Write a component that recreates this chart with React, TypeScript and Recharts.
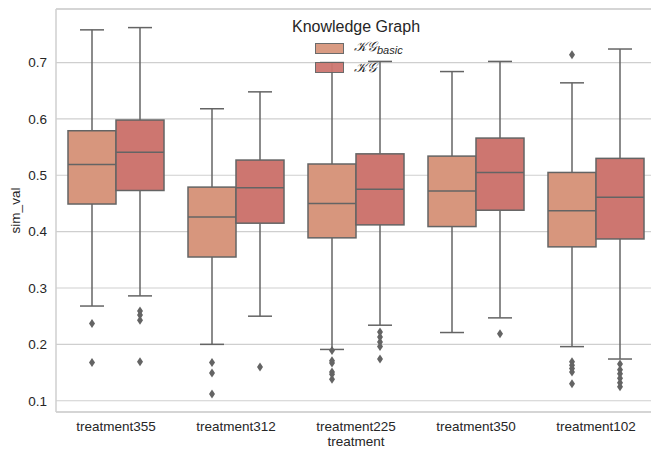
import React from "react"
import { ComposedChart, Bar, XAxis, YAxis, CartesianGrid, ReferenceLine } from "recharts"

// categories
const treatments = ["treatment355", "treatment312", "treatment225", "treatment350", "treatment102"]
const yTicks = [0.1, 0.2, 0.3, 0.4, 0.5, 0.6, 0.7]

// KG_basic box stats, one entry per treatment
const basicLow = [0.268, 0.2, 0.191, 0.221, 0.196]
const basicQ1 = [0.449, 0.355, 0.389, 0.409, 0.373]
const basicMedian = [0.519, 0.426, 0.45, 0.472, 0.437]
const basicQ3 = [0.579, 0.479, 0.52, 0.534, 0.505]
const basicHigh = [0.758, 0.618, 0.7, 0.684, 0.664]
const basicOutliers = [
  [0.237, 0.168],
  [0.168, 0.149, 0.112],
  [0.189, 0.171, 0.167, 0.151, 0.147, 0.138],
  [],
  [0.714, 0.169, 0.163, 0.157, 0.151, 0.13],
]

// KG box stats
const kgLow = [0.286, 0.25, 0.234, 0.247, 0.174]
const kgQ1 = [0.473, 0.415, 0.412, 0.438, 0.387]
const kgMedian = [0.541, 0.478, 0.475, 0.505, 0.461]
const kgQ3 = [0.598, 0.527, 0.538, 0.566, 0.53]
const kgHigh = [0.762, 0.648, 0.702, 0.702, 0.724]
const kgOutliers = [
  [0.259, 0.252, 0.243, 0.169],
  [0.16],
  [0.222, 0.213, 0.204, 0.196, 0.174],
  [0.219],
  [0.165, 0.155, 0.148, 0.14, 0.132, 0.125],
]

const BASIC_COLOR = "#d7967d"
const KG_COLOR = "#cd7670"
const LINE = "#646464"
const GRID = "#cfcfcf"
const TEXT = "#262626"
const FONT = "'Liberation Sans', Arial, sans-serif"

type Stats = { lo: number; q1: number; med: number; q3: number; hi: number; out: number[] }

const rows = treatments.map((name, i) => {
  const basic: Stats = { lo: basicLow[i], q1: basicQ1[i], med: basicMedian[i], q3: basicQ3[i], hi: basicHigh[i], out: basicOutliers[i] }
  const kg: Stats = { lo: kgLow[i], q1: kgQ1[i], med: kgMedian[i], q3: kgQ3[i], hi: kgHigh[i], out: kgOutliers[i] }
  return {
    name,
    basic,
    kg,
    basicRange: [Math.min(basic.lo, ...basic.out), Math.max(basic.hi, ...basic.out)],
    kgRange: [Math.min(kg.lo, ...kg.out), Math.max(kg.hi, ...kg.out)],
  }
})

function makeBox(key: "basic" | "kg", fill: string) {
  return (props: any) => {
    const { x, y, width, height, payload } = props
    const s: Stats = payload[key]
    const range = payload[key + "Range"]
    const top = Math.min(y, y + height)
    const bot = Math.max(y, y + height)
    // the bar spans range[0]..range[1]; place the stats inside it
    const py = (v: number) => bot - ((v - range[0]) / (range[1] - range[0])) * (bot - top)
    const cx = x + width / 2
    const capHalf = width / 4
    return (
      <g>
        <line x1={cx} x2={cx} y1={py(s.hi)} y2={py(s.q3)} stroke={LINE} strokeWidth={1.5} />
        <line x1={cx} x2={cx} y1={py(s.q1)} y2={py(s.lo)} stroke={LINE} strokeWidth={1.5} />
        <line x1={cx - capHalf} x2={cx + capHalf} y1={py(s.hi)} y2={py(s.hi)} stroke={LINE} strokeWidth={1.5} />
        <line x1={cx - capHalf} x2={cx + capHalf} y1={py(s.lo)} y2={py(s.lo)} stroke={LINE} strokeWidth={1.5} />
        <rect x={x} y={py(s.q3)} width={width} height={py(s.q1) - py(s.q3)} fill={fill} stroke={LINE} strokeWidth={1.5} />
        <line x1={x} x2={x + width} y1={py(s.med)} y2={py(s.med)} stroke={LINE} strokeWidth={1.5} />
        {s.out.map((v, j) => {
          const oy = py(v)
          return <path key={j} d={`M${cx},${oy - 4.5}L${cx + 3},${oy}L${cx},${oy + 4.5}L${cx - 3},${oy}Z`} fill={LINE} />
        })}
      </g>
    )
  }
}

const legendItems = [
  { color: BASIC_COLOR, sub: "basic" },
  { color: KG_COLOR, sub: "" },
]

export default function App() {
  return (
    <div style={{ position: "absolute", left: 0, top: 0, width: 651, height: 450, overflow: "hidden", background: "#fff" }}>
      <ComposedChart width={660} height={450} data={rows} margin={{ top: 9, right: 4, bottom: 0, left: 0 }} barCategoryGap="10%" barGap={0}>
        <CartesianGrid vertical={false} stroke={GRID} strokeWidth={1.2} />
        <ReferenceLine y={0.795} stroke={GRID} strokeWidth={1.5} />
        <XAxis
          dataKey="name"
          height={38}
          tickLine={false}
          tickSize={6}
          tickMargin={3}
          axisLine={{ stroke: GRID, strokeWidth: 1.5 }}
          tick={{ fill: TEXT, fontSize: 13.5, fontFamily: FONT }}
          label={{
            content: (p: any) => {
              const vb = p.viewBox
              return (
                <text x={vb.x + vb.width / 2} y={vb.y + 34} textAnchor="middle" fill={TEXT} fontSize={13.5} fontFamily={FONT}>
                  treatment
                </text>
              )
            },
          }}
        />
        <YAxis
          type="number"
          width={56}
          domain={[0.08, 0.795]}
          ticks={yTicks}
          allowDataOverflow
          tickLine={false}
          tickSize={6}
          tickMargin={3}
          tickFormatter={(v: number) => v.toFixed(1)}
          axisLine={{ stroke: GRID, strokeWidth: 1.5 }}
          tick={{ fill: TEXT, fontSize: 13.5, fontFamily: FONT }}
          label={{
            content: (p: any) => {
              const vb = p.viewBox
              const lx = 15
              const ly = vb.y + vb.height / 2
              return (
                <text x={lx} y={ly} transform={`rotate(-90, ${lx}, ${ly})`} textAnchor="middle" dominantBaseline="central" fill={TEXT} fontSize={13.5} fontFamily={FONT}>
                  sim_val
                </text>
              )
            },
          }}
        />
        <Bar dataKey="basicRange" name="basic" fill={BASIC_COLOR} shape={makeBox("basic", BASIC_COLOR)} isAnimationActive={false} />
        <Bar dataKey="kgRange" name="kg" fill={KG_COLOR} shape={makeBox("kg", KG_COLOR)} isAnimationActive={false} />
      </ComposedChart>
      <div style={{ position: "absolute", left: 288, top: 17, fontFamily: FONT, color: TEXT }}>
        <div style={{ fontSize: 16, lineHeight: "20px", textAlign: "center", width: 136 }}>Knowledge Graph</div>
        {legendItems.map((it, i) => (
          <div key={i} style={{ position: "absolute", left: 27, top: 26 + i * 19, display: "flex", alignItems: "center", height: 10 }}>
            <div style={{ width: 27, height: 9, background: it.color, border: `1px solid ${LINE}`, opacity: 0.95 }} />
            <span style={{ marginLeft: 10, fontSize: 13.5, whiteSpace: "nowrap", lineHeight: "10px" }}>
              <span style={{ fontFamily: "'DejaVu Serif', serif", fontStyle: "italic" }}>𝒦𝒢</span>
              {it.sub && <sub style={{ fontStyle: "italic", fontSize: 11, verticalAlign: "-3px" }}>{it.sub}</sub>}
            </span>
          </div>
        ))}
      </div>
    </div>
  )
}
